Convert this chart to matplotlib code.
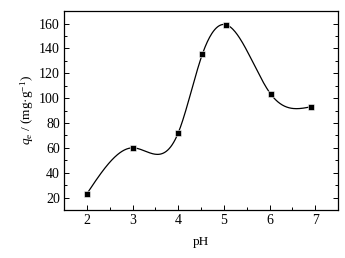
import numpy as np
import matplotlib
matplotlib.use("Agg")
import matplotlib.pyplot as plt
from matplotlib.ticker import MultipleLocator

ph = [2.0, 3.0, 4.0, 4.53, 5.05, 6.03, 6.9]
qe = [23, 60, 72, 135.5, 159, 103, 93]


def naturalSpline(x, y, xs):
    x = np.asarray(x, float)
    y = np.asarray(y, float)
    n = len(x)
    h = np.diff(x)
    A = np.zeros((n, n))
    b = np.zeros(n)
    A[0, 0] = 1
    A[-1, -1] = 1
    for i in range(1, n - 1):
        A[i, i - 1] = h[i - 1]
        A[i, i] = 2 * (h[i - 1] + h[i])
        A[i, i + 1] = h[i]
        b[i] = 6 * ((y[i + 1] - y[i]) / h[i] - (y[i] - y[i - 1]) / h[i - 1])
    m = np.linalg.solve(A, b)
    k = np.clip(np.searchsorted(x, xs) - 1, 0, n - 2)
    t = xs - x[k]
    hk = h[k]
    a = (m[k + 1] - m[k]) / (6 * hk)
    c = (y[k + 1] - y[k]) / hk - hk * (2 * m[k] + m[k + 1]) / 6
    return y[k] + c * t + m[k] / 2 * t ** 2 + a * t ** 3


plt.rcParams['font.family'] = ['Liberation Serif', 'DejaVu Serif']
plt.rcParams['mathtext.fontset'] = 'custom'
plt.rcParams['mathtext.rm'] = 'Liberation Serif'
plt.rcParams['mathtext.it'] = 'Liberation Serif:italic'

fig = plt.figure(figsize=(3.45, 2.58), dpi=100)
ax = fig.add_axes([0.1855, 0.186, 0.7945, 0.771])

xs = np.linspace(ph[0], ph[-1], 300)
ax.plot(xs, naturalSpline(ph, qe, xs), color='black', lw=0.9)
ax.plot(ph, qe, 's', color='black', ms=4.2, mec='white', mew=0.4)

ax.set_xlim(1.5, 7.5)
ax.set_ylim(10, 170)
ax.xaxis.set_major_locator(MultipleLocator(1))
ax.xaxis.set_minor_locator(MultipleLocator(0.5))
ax.yaxis.set_major_locator(MultipleLocator(20))
ax.yaxis.set_minor_locator(MultipleLocator(10))
ax.tick_params(which='both', direction='in', right=True, labelsize=10, width=0.7)
ax.tick_params(which='major', length=3.5, pad=3)
ax.tick_params(which='minor', length=2)
for s in ax.spines.values():
    s.set_linewidth(0.9)

ax.set_xlabel('pH', fontsize=9.5, labelpad=6.5)
ax.set_ylabel(r'$q_{\rm e}$ / (mg·g$^{-1}$)', fontsize=9.5, labelpad=2)

fig.savefig('out.png', dpi=100)
